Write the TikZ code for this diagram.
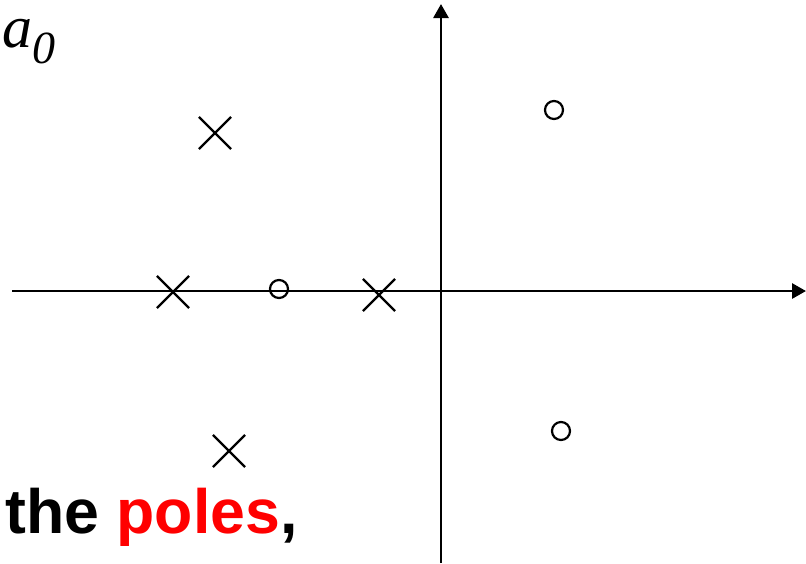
\documentclass[tikz,border=0pt]{standalone}
\usepackage{fontspec}
\setmainfont{Liberation Serif}
\newfontfamily\labelfont{Liberation Sans}
\usetikzlibrary{arrows.meta, shapes.misc}
\definecolor{colPole}{RGB}{255,0,0}
\tikzset{
  axis/.style={line width=1.4pt, -{Triangle[length=7pt, width=7.5pt]}},
  poleMark/.style={cross out, draw, line width=1.1pt, minimum size=15pt, inner sep=0pt},
  zeroMark/.style={circle, draw, line width=1.1pt, minimum size=9pt, inner sep=0pt},
  bigLabel/.style={font=\labelfont\bfseries\fontsize{31.3}{36}\selectfont, anchor=base west, inner sep=0pt},
}
\begin{document}
\begin{tikzpicture}[x=0.5pt, y=-0.5pt]
\useasboundingbox (0,0) rectangle (806,563);

% ---- Axes ------------------------------------------------------
\coordinate (xStart) at (12,291);
\coordinate (xEnd) at (806,291);
\coordinate (yStart) at (441,563);
\coordinate (yEnd) at (441,4);
\draw[axis] (xStart) -- (xEnd);
\draw[axis] (yStart) -- (yEnd);

% ---- Poles -----------------------------------------------------
\node[poleMark] (p1) at (215,133) {};
\node[poleMark] (p2) at (173,292) {};
\node[poleMark] (p3) at (379,295) {};
\node[poleMark] (p4) at (229,451) {};

% ---- Zeros -----------------------------------------------------
\node[zeroMark] (z1) at (279,289) {};
\node[zeroMark] (z2) at (554,110) {};
\node[zeroMark] (z3) at (561,431) {};

% ---- Labels ----------------------------------------------------
\node[anchor=base west, inner sep=0pt, font=\fontsize{30}{32}\selectfont\itshape] (coef) at (2,47)
  {a\raisebox{-8pt}{\fontsize{23}{26}\selectfont 0}};
\node[bigLabel] (caption) at (5,533) {the \textcolor{colPole}{poles},};

\end{tikzpicture}
\end{document}
